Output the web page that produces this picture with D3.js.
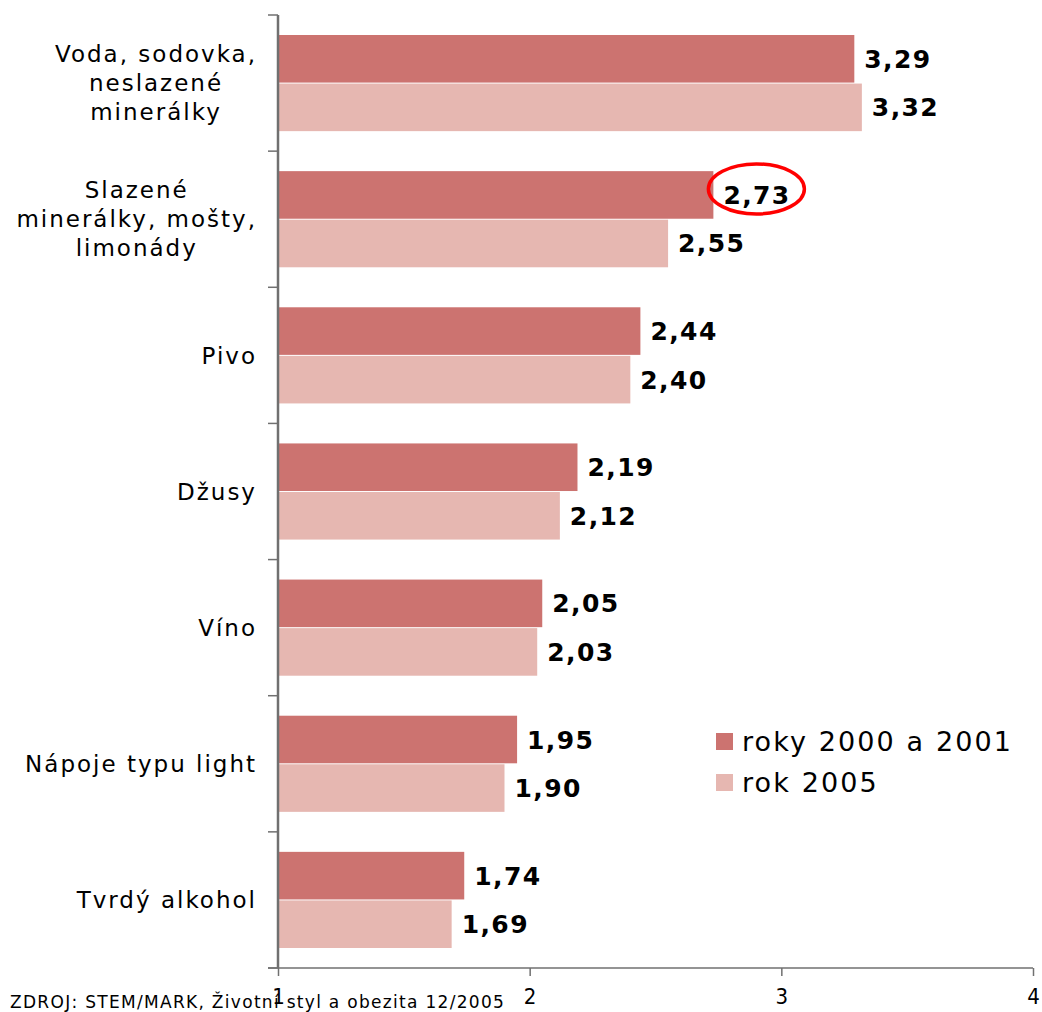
<!DOCTYPE html>
<html><head><meta charset="utf-8">
<script src="https://cdn.jsdelivr.net/npm/d3@7"></script>
<style>
html,body{margin:0;padding:0;background:#fff;}
svg{display:block;}
</style></head>
<body>
<svg id="chart" width="1042" height="1012"></svg>
<script>
const categories = [
  ["Voda, sodovka,", "neslazené", "minerálky"],
  ["Slazené", "minerálky, mošty,", "limonády"],
  ["Pivo"],
  ["Džusy"],
  ["Víno"],
  ["Nápoje typu light"],
  ["Tvrdý alkohol"]
];
const seriesNames = ["roky 2000 a 2001", "rok 2005"];
const values2000 = [3.29, 2.73, 2.44, 2.19, 2.05, 1.95, 1.74];
const values2005 = [3.32, 2.55, 2.40, 2.12, 2.03, 1.90, 1.69];
const xTicks = [1, 2, 3, 4];
const colors = ["#CC7370", "#E6B7B1"];
const highlight = {category: 1, series: 0};

(function(){
const svg = d3.select("#chart");
const font = "'DejaVu Sans', Verdana, sans-serif";
const pLeft = 278, pRight = 1033, pTop = 15, pBottom = 968;

const x = d3.scaleLinear().domain([1, 4]).range([pLeft, pRight]);
const y = d3.scaleBand().domain(d3.range(categories.length)).range([pTop, pBottom]).paddingInner(0).paddingOuter(0);
const inner = d3.scaleBand().domain([0, 1]).range([20, y.bandwidth() - 20]).paddingInner(0.02);

const data = categories.map((c, i) => ({i, label: c, vals: [values2000[i], values2005[i]]}));

// bars
const g = svg.append("g");
data.forEach(d => {
  d.vals.forEach((v, s) => {
    g.append("rect")
      .attr("x", x(1))
      .attr("y", y(d.i) + inner(s))
      .attr("width", x(v) - x(1))
      .attr("height", inner.bandwidth())
      .attr("fill", colors[s]);
    g.append("text")
      .attr("x", x(v) + 10)
      .attr("y", y(d.i) + inner(s) + inner.bandwidth() / 2)
      .attr("dy", "0.36em")
      .attr("font-family", font)
      .attr("font-weight", "bold")
      .attr("font-size", 25)
      .attr("letter-spacing", 1.4)
      .attr("fill", "#000")
      .text(d3.format(".2f")(v).replace(".", ","));
  });
});

// highlight ellipse
{
  const v = values2000[highlight.category];
  const cy = y(highlight.category) + inner(highlight.series) + inner.bandwidth() / 2;
  svg.append("ellipse")
    .attr("cx", x(v) + 43)
    .attr("cy", cy - 6)
    .attr("rx", 48)
    .attr("ry", 25)
    .attr("fill", "none")
    .attr("stroke", "#FF0000")
    .attr("stroke-width", 3.5);
}

// y axis
const yAxis = d3.axisLeft(y).tickSizeInner(0).tickSizeOuter(0).tickFormat("");
const ya = svg.append("g").attr("transform", `translate(${pLeft},0)`).call(yAxis);
ya.selectAll(".tick").remove();
ya.select(".domain").attr("stroke", "#707070").attr("stroke-width", 2.5).attr("d", `M0,${pTop}V${pBottom}`);
const bounds = d3.range(categories.length + 1).map(i => pTop + i * y.step());
svg.append("g").selectAll("line").data(bounds).join("line")
  .attr("x1", pLeft - 10).attr("x2", pLeft).attr("y1", d => d).attr("y2", d => d)
  .attr("stroke", "#707070").attr("stroke-width", 1.5);

// category labels
data.forEach(d => {
  const t = svg.append("text")
    .attr("font-family", font)
    .attr("font-size", 23)
    .attr("letter-spacing", 2)
    .attr("fill", "#000")
    .attr("text-anchor", "middle");
  const lh = 29;
  const n = d.label.length;
  const cy = y(d.i) + y.bandwidth() / 2;
  d.label.forEach((line, k) => {
    t.append("tspan").attr("y", cy + (k - (n - 1) / 2) * lh).attr("dy", "0.36em").text(line);
  });
  let maxw = 0;
  t.selectAll("tspan").each(function(){ maxw = Math.max(maxw, this.getComputedTextLength()); });
  const cx = 257 - maxw / 2;
  t.selectAll("tspan").attr("x", cx);
});

// x axis
const xAxis = d3.axisBottom(x).tickValues(xTicks).tickSizeInner(8).tickSizeOuter(0).tickPadding(12).tickFormat(d3.format("d"));
const xa = svg.append("g").attr("transform", `translate(0,${pBottom})`).call(xAxis);
xa.select(".domain").attr("stroke", "#707070").attr("stroke-width", 1.5).attr("d", `M${pLeft - 10},0H${pRight}`);
xa.selectAll(".tick line").attr("stroke", "#707070").attr("stroke-width", 1.5);
xa.selectAll(".tick text").attr("font-family", "'DejaVu Sans Condensed', 'DejaVu Sans', sans-serif").attr("font-stretch", "condensed").attr("font-size", 22).attr("fill", "#000");

// legend
const legend = svg.append("g").attr("transform", "translate(716,741)");
seriesNames.forEach((name, s) => {
  const lg = legend.append("g").attr("transform", `translate(0,${s * 41})`);
  lg.append("rect").attr("x", 0).attr("y", -8).attr("width", 17).attr("height", 17).attr("fill", colors[s]);
  lg.append("text").attr("x", 26).attr("y", 0).attr("dy", "0.36em")
    .attr("font-family", font).attr("font-size", 27).attr("letter-spacing", 2.1).attr("fill", "#000").text(name);
});

// source
svg.append("text").attr("x", 10).attr("y", 1008)
  .attr("font-family", font).attr("font-size", 17).attr("letter-spacing", 1.3).attr("fill", "#000")
  .text("ZDROJ: STEM/MARK, Životní styl a obezita 12/2005");
})();
</script>
</body></html>
